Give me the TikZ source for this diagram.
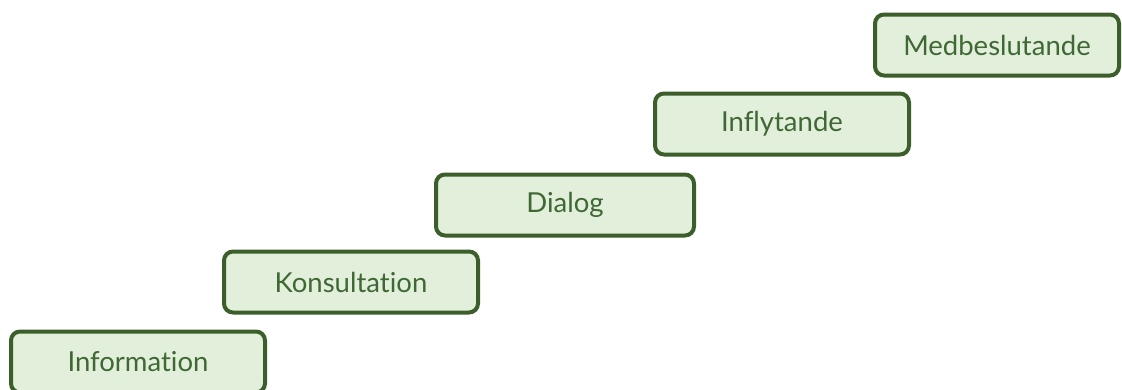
\documentclass[tikz,border=0pt]{standalone}
\usepackage{fontspec}
\setmainfont{Lato}[Ligatures={NoCommon}]
\definecolor{boxfill}{HTML}{E2EFDA}
\definecolor{boxline}{HTML}{3B5E2B}
\definecolor{boxtext}{HTML}{3F6835}
\begin{document}
\begin{tikzpicture}[x=1pt,y=-1pt,
  stepbox/.style={draw=boxline,fill=boxfill,line width=4pt,rounded corners=9pt,
    minimum width=254pt,minimum height=61pt,inner sep=0pt,
    text=boxtext,font=\fontsize{27.5}{31}\selectfont}]
  \useasboundingbox (0,0) rectangle (1122,389);
  \clip (0,0) rectangle (1122,389);
  \node[stepbox] (info) at (138,362) {Information};
  \node[stepbox] (kons) at (351,282) {Konsultation};
  \node[stepbox,minimum width=258pt] (dial) at (565,205) {Dialog};
  \node[stepbox] (infl) at (782,124) {Inflytande};
  \node[stepbox,minimum width=244pt] (medb) at (997,45) {Medbeslutande};
\end{tikzpicture}
\end{document}
